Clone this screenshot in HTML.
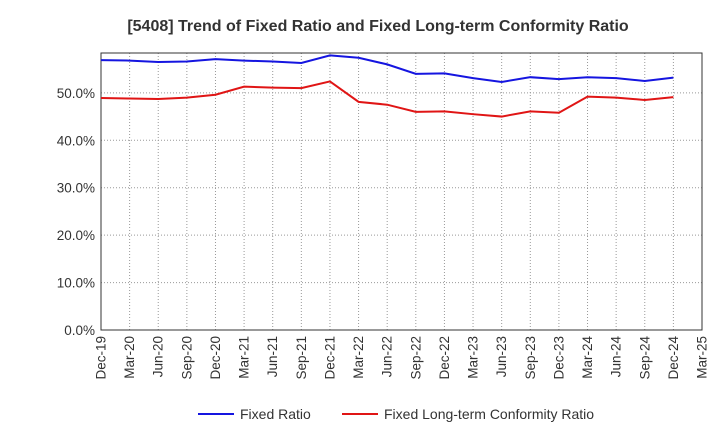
<!DOCTYPE html>
<html><head><meta charset="utf-8"><style>
body{margin:0;background:#fff;font-family:"Liberation Sans",sans-serif}
</style></head><body>
<svg id="c" width="720" height="440" xmlns="http://www.w3.org/2000/svg"></svg>
<script>
const categories=["Dec-19","Mar-20","Jun-20","Sep-20","Dec-20","Mar-21","Jun-21","Sep-21","Dec-21","Mar-22","Jun-22","Sep-22","Dec-22","Mar-23","Jun-23","Sep-23","Dec-23","Mar-24","Jun-24","Sep-24","Dec-24","Mar-25"];
const fixedRatio=[56.9,56.8,56.5,56.6,57.1,56.8,56.6,56.3,57.9,57.4,56.0,54.0,54.1,53.1,52.3,53.3,52.9,53.3,53.1,52.5,53.2];
const conformityRatio=[48.9,48.8,48.7,49.0,49.6,51.3,51.1,51.0,52.4,48.1,47.5,46.0,46.1,45.5,45.0,46.1,45.8,49.2,49.0,48.5,49.1];
const yTicks=[0,10,20,30,40,50];
const yTickLabels=["0.0%","10.0%","20.0%","30.0%","40.0%","50.0%"];
const yMax=58.4;
const L=101,R=702,T=53,B=330;
const svg=document.getElementById('c');const NS="http://www.w3.org/2000/svg";
function el(t,a,p){const e=document.createElementNS(NS,t);for(const k in a)e.setAttribute(k,a[k]);(p||svg).appendChild(e);return e;}
const x=i=>L+i*(R-L)/(categories.length-1);
const y=v=>B-v/yMax*(B-T);
const title=el('text',{x:378,y:31,'text-anchor':'middle','font-size':16,'font-weight':'bold',fill:'#333'});

title.textContent="[5408]  Trend of Fixed Ratio and Fixed Long-term Conformity Ratio";
const g=el('g',{});
categories.forEach((c,i)=>{if(i>0&&i<categories.length-1)el('line',{x1:x(i),x2:x(i),y1:T,y2:B,stroke:'#999','stroke-dasharray':'1,2'},g);
const t=el('text',{transform:`translate(${x(i)+4.5},${B+6}) rotate(-90)`,'text-anchor':'end','font-size':13.5,fill:'#333'});
t.textContent=c;});
yTicks.forEach((v,i)=>{if(v>0)el('line',{x1:L,x2:R,y1:y(v),y2:y(v),stroke:'#999','stroke-dasharray':'1,2'},g);
const t=el('text',{x:L-6,y:y(v)+5,'text-anchor':'end','font-size':13.5,fill:'#333'});
t.textContent=yTickLabels[i];});
const f=el('rect',{x:L,y:T,width:R-L,height:B-T,fill:'none',stroke:'#333'});

function line(d,col,name){const p=el('polyline',{points:d.map((v,i)=>x(i)+','+y(v)).join(' '),fill:'none',stroke:col,'stroke-width':2});
}
line(fixedRatio,'#1515e0','fixed-ratio-line');
line(conformityRatio,'#e01515','conformity-ratio-line');
function leg(x0,col,txt,name){const gg=el('g',{});
el('line',{x1:x0,x2:x0+36,y1:414,y2:414,stroke:col,'stroke-width':2},gg);
const t=el('text',{x:x0+42,y:419,'font-size':14,fill:'#333'},gg);t.textContent=txt;}
leg(198,'#1515e0','Fixed Ratio','legend-fixed-ratio');
leg(342,'#e01515','Fixed Long-term Conformity Ratio','legend-conformity-ratio');
</script></body></html>
